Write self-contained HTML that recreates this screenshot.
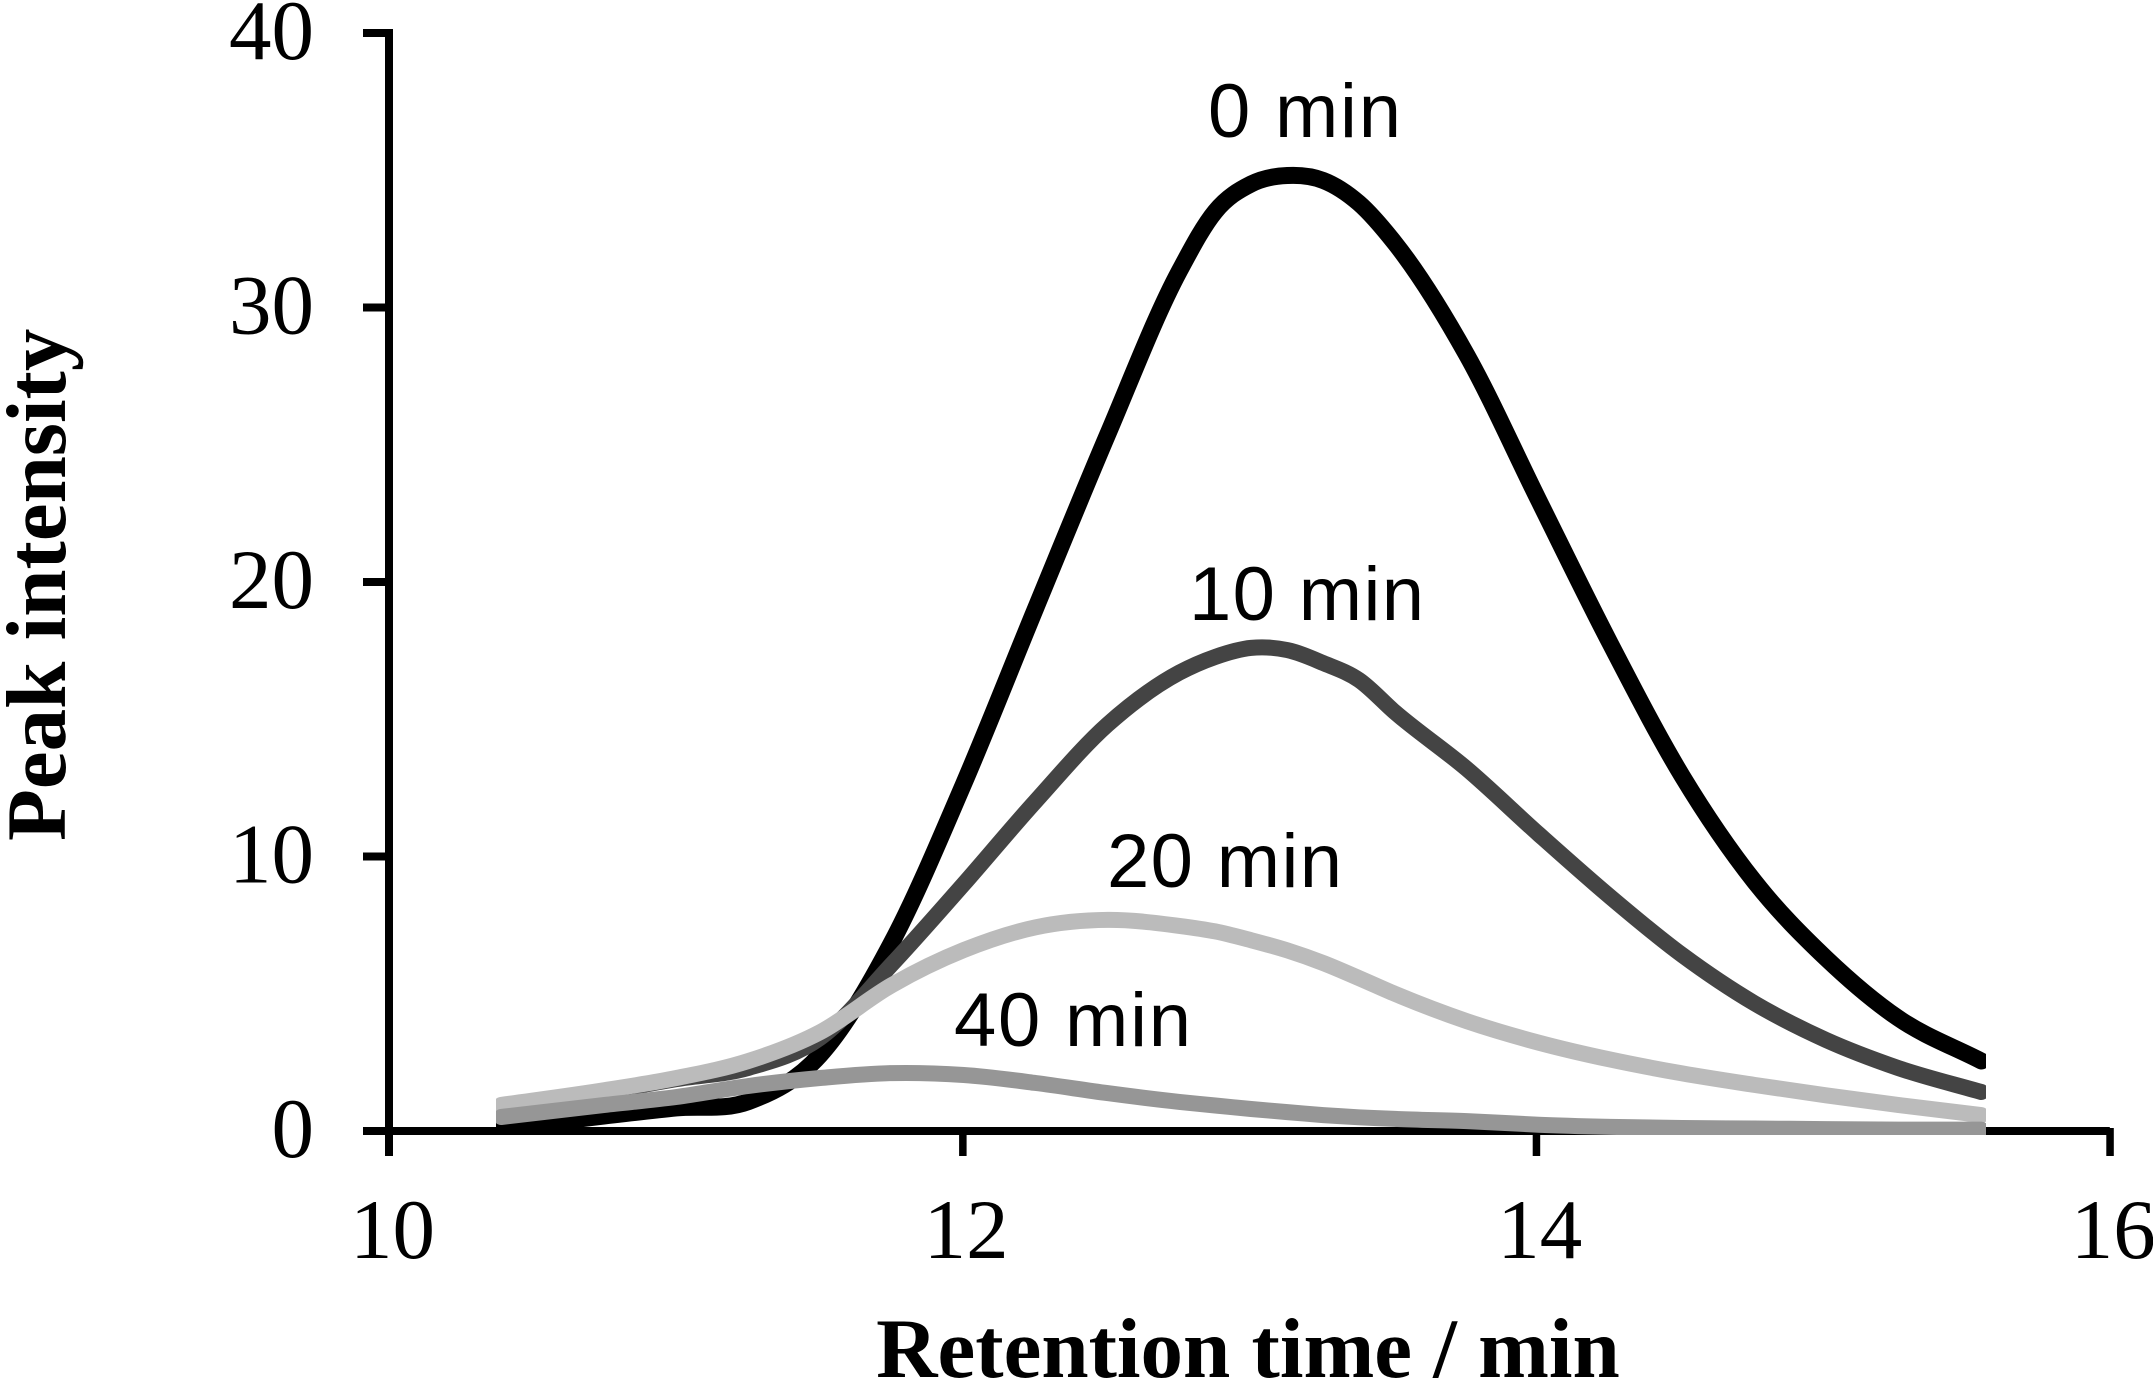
<!DOCTYPE html>
<html lang="en">
<head>
<meta charset="utf-8">
<title>Peak intensity vs retention time</title>
<style>
html,body{margin:0;padding:0;background:#fff;}
svg{display:block;}
.serif{font-family:"Liberation Serif",serif;fill:#000;}
.sans{font-family:"Liberation Sans",sans-serif;fill:#000;font-size:76px;}
</style>
</head>
<body>
<svg id="chart" xmlns="http://www.w3.org/2000/svg" width="2153" height="1379" viewBox="0 0 2153 1379">
  <defs>
    <clipPath id="plot-clip"><rect x="496" y="0" width="1490" height="1135"></rect></clipPath>
  </defs>
  <rect x="0" y="0" width="2153" height="1379" fill="#fff"></rect>
  <g id="axes"></g>
  <g id="series" clip-path="url(#plot-clip)"></g>
  <text class="sans" x="1208" y="137" textLength="193">0 min</text>
  <text class="sans" x="1189" y="620" textLength="235">10 min</text>
  <text class="sans" x="1107" y="887" textLength="235">20 min</text>
  <text class="sans" x="954" y="1046" textLength="237">40 min</text>
  <text class="serif" x="1248" y="1377" text-anchor="middle" font-size="85" font-weight="bold">Retention time / min</text>
  <text class="serif" transform="translate(65,841) rotate(-90)" font-size="85" font-weight="bold">Peak intensity</text>
</svg>
<script>
const times = [10.391, 10.752, 11.002, 11.253, 11.503, 11.754, 12.004, 12.255, 12.505, 12.756, 12.881, 13.006, 13.132, 13.257, 13.382, 13.507, 13.758, 14.008, 14.259, 14.509, 14.76, 15.01, 15.261, 15.552];
const values0min = [0.1, 0.55, 0.84, 1.07, 2.77, 6.89, 12.65, 19.05, 25.35, 31.33, 33.5, 34.5, 34.81, 34.63, 33.8, 32.35, 28.27, 22.99, 17.74, 12.93, 9.1, 6.3, 4.12, 2.55];
const values10min = [0.65, 1.42, 1.89, 2.3, 3.39, 6.08, 9.0, 12.02, 14.8, 16.7, 17.27, 17.6, 17.52, 17.05, 16.43, 15.26, 13.19, 10.82, 8.52, 6.41, 4.66, 3.32, 2.3, 1.42];
const values20min = [0.95, 1.49, 1.93, 2.55, 3.6, 5.32, 6.59, 7.42, 7.69, 7.47, 7.27, 6.95, 6.58, 6.12, 5.57, 5.0, 4.0, 3.22, 2.6, 2.1, 1.68, 1.3, 0.95, 0.58];
const values40min = [0.51, 0.95, 1.24, 1.64, 1.93, 2.11, 2.04, 1.75, 1.38, 1.06, 0.93, 0.8, 0.69, 0.58, 0.5, 0.44, 0.36, 0.23, 0.15, 0.11, 0.09, 0.07, 0.05, 0.05];
const xTickLabels = [10, 12, 14, 16];
const yTickLabels = [0, 10, 20, 30, 40];

const NS = 'http://www.w3.org/2000/svg';
const xScale = t => 389 + 286.8 * (t - 10);
const yScale = v => 1131 - 27.45 * v;

function make(tag, attrs, parent) {
  const el = document.createElementNS(NS, tag);
  for (const k in attrs) el.setAttribute(k, attrs[k]);
  parent.appendChild(el);
  return el;
}

function splinePath(ts, vs) {
  const p = ts.map((t, i) => [xScale(t), yScale(vs[i])]);
  const n = p.length;
  const slope = i => (p[i + 1][1] - p[i][1]) / (p[i + 1][0] - p[i][0]);
  const m = p.map((q, i) => {
    if (i === 0) return slope(0);
    if (i === n - 1) return slope(n - 2);
    const h0 = p[i][0] - p[i - 1][0], h1 = p[i + 1][0] - p[i][0];
    return (h1 * slope(i - 1) + h0 * slope(i)) / (h0 + h1);
  });
  let d = 'M' + p[0][0].toFixed(1) + ' ' + p[0][1].toFixed(1);
  for (let i = 0; i < n - 1; i++) {
    const h = (p[i + 1][0] - p[i][0]) / 3;
    d += ' C' + (p[i][0] + h).toFixed(1) + ' ' + (p[i][1] + m[i] * h).toFixed(1) + ' ' +
      (p[i + 1][0] - h).toFixed(1) + ' ' + (p[i + 1][1] - m[i + 1] * h).toFixed(1) + ' ' +
      p[i + 1][0].toFixed(1) + ' ' + p[i + 1][1].toFixed(1);
  }
  return d;
}

const axes = document.getElementById('axes');
const seriesGroup = document.getElementById('series');

const yAxisLine = make('rect', {x: 385, y: yScale(40) - 4, width: 8, height: 1156 - yScale(40) + 4, fill: '#000'}, axes);



const xAxisLine = make('rect', {x: 363, y: yScale(0) - 4, width: xScale(16) - 363, height: 8, fill: '#000'}, axes);



yTickLabels.forEach(v => {
  const tick = make('rect', {x: 363, y: yScale(v) - 4, width: 26, height: 8, fill: '#000'}, axes);
  
  
  const label = make('text', {class: 'serif', x: 314, y: yScale(v) + 26, 'text-anchor': 'end', 'font-size': 85}, axes);
  
  
  label.textContent = v;
});

xTickLabels.forEach(t => {
  const tick = make('rect', {x: xScale(t) - 3.5, y: yScale(0) - 3, width: 7.5, height: 28, fill: '#000'}, axes);
  
  
  const label = make('text', {class: 'serif', x: xScale(t) + 3.5, y: 1258, 'text-anchor': 'middle', 'font-size': 85}, axes);
  
  
  label.textContent = t;
});

function drawLine(vs, color, w) {
  const line = make('path', {d: splinePath(times, vs), fill: 'none', stroke: color, 'stroke-width': w, 'stroke-linecap': 'round', 'stroke-linejoin': 'round'}, seriesGroup);
  return line;
}

const line0 = drawLine(values0min, '#000000', 17);


const line10 = drawLine(values10min, '#444444', 16);


const line20 = drawLine(values20min, '#bbbbbb', 16);


const line40 = drawLine(values40min, '#969696', 16);


</script>
</body>
</html>
